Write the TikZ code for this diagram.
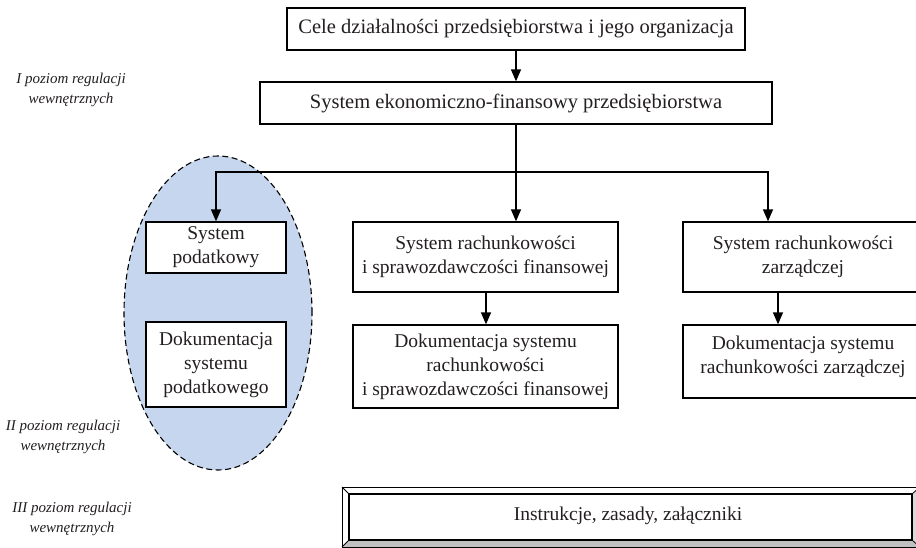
\documentclass[tikz,border=0pt]{standalone}
\usepackage{fontspec}
\setmainfont{Liberation Serif}
\usetikzlibrary{shapes.geometric,arrows.meta}
\definecolor{ellfill}{RGB}{197,214,238}
\definecolor{txt}{RGB}{35,31,32}
\definecolor{bevelgray}{RGB}{192,192,192}
\begin{document}
\begin{tikzpicture}[x=1pt,y=-1pt,
  box/.style={draw=black, line width=1.3pt, fill=white, text=txt, align=center,
    font=\fontsize{19.5}{24}\selectfont, inner sep=2pt},
  bigtext/.style={font=\fontsize{20.5}{24}\selectfont},
  arr/.style={line width=1.3pt, -{Triangle[length=12pt,width=10pt]}},
  conn/.style={line width=1.3pt},
  lvl/.style={text=txt, align=center, font=\fontsize{15}{19.5}\selectfont\itshape}
]
\useasboundingbox (0,0) rectangle (916,547);

% levels
\node[lvl] (l1) at (71,90) {I poziom regulacji\\wewnętrznych};
\node[lvl] (l2) at (63,437) {II poziom regulacji\\wewnętrznych};
\node[lvl] (l3) at (72,519) {III poziom regulacji\\wewnętrznych};

% ellipse
\node[ellipse, draw=black, dash pattern=on 6pt off 3.5pt, line width=1.1pt, fill=ellfill,
  minimum width=188pt, minimum height=314pt, inner sep=0pt] (ell) at (218,313) {};

% boxes
\node[box, bigtext, minimum width=458pt, minimum height=42pt] (b1) at (516,29)
  {Cele działalności przedsiębiorstwa i jego organizacja};
\node[box, bigtext, minimum width=512pt, minimum height=42pt] (b2) at (516,103)
  {System ekonomiczno-finansowy przedsiębiorstwa};
\node[box, minimum width=140pt, minimum height=51pt] (sp) at (216,247.5)
  {System\\podatkowy};
\node[box, minimum width=140pt, minimum height=85pt] (dsp) at (216,364.5)
  {Dokumentacja\\systemu\\podatkowego};
\node[box, minimum width=265pt, minimum height=70pt] (m1) at (485.5,257)
  {System rachunkowości\\i sprawozdawczości finansowej};
\node[box, minimum width=265pt, minimum height=83pt] (m2) at (485.5,366.5)
  {Dokumentacja systemu\\rachunkowości\\i sprawozdawczości finansowej};
\node[box, minimum width=240pt, minimum height=70pt] (r1) at (803,257)
  {System rachunkowości\\zarządczej};
\node[box, minimum width=240pt, minimum height=73pt, text depth=14pt] (r2) at (803,361.5)
  {Dokumentacja systemu\\rachunkowości zarządczej};

% connectors
\coordinate (j) at (516,172);
\coordinate (rj) at (768,172);
\coordinate (rx) at (778,0);
\coordinate (mx) at (486,0);
\draw[arr] (b1.south) -- (b1.south |- b2.north);
\draw[conn] (b2.south) -- (j);
\draw[arr] (j) -- (j |- m1.north);
\draw[arr] (j) -| (sp.north);
\draw[arr] (j) -- (rj) -- (rj |- r1.north);
\draw[arr] (m1.south -| mx) -- (m2.north -| mx);
\draw[arr] (r1.south -| rx) -- (r2.north -| rx);

% bevelled box
\coordinate (oA) at (342,487);
\coordinate (oB) at (920,487);
\coordinate (oC) at (920,547);
\coordinate (oD) at (342,547);
\coordinate (iA) at (349,494);
\coordinate (iB) at (912,494);
\coordinate (iC) at (912,540);
\coordinate (iD) at (349,540);
\fill[bevelgray] (oD) -- (iD) -- (iC) -- (oC) -- cycle;
\fill[bevelgray!60] (iB) -- (oB) -- (oC) -- (iC) -- cycle;
\draw[line width=0.8pt] (oA) rectangle (oC);
\draw[line width=0.8pt] (oA) -- (iA) (oB) -- (iB) (oC) -- (iC) (oD) -- (iD);
\draw[line width=1.6pt, fill=white] (iA) rectangle (iC);
\node[text=txt, font=\fontsize{19.5}{24}\selectfont] (instr) at (628,516)
  {Instrukcje, zasady, załączniki};
\end{tikzpicture}
\end{document}
